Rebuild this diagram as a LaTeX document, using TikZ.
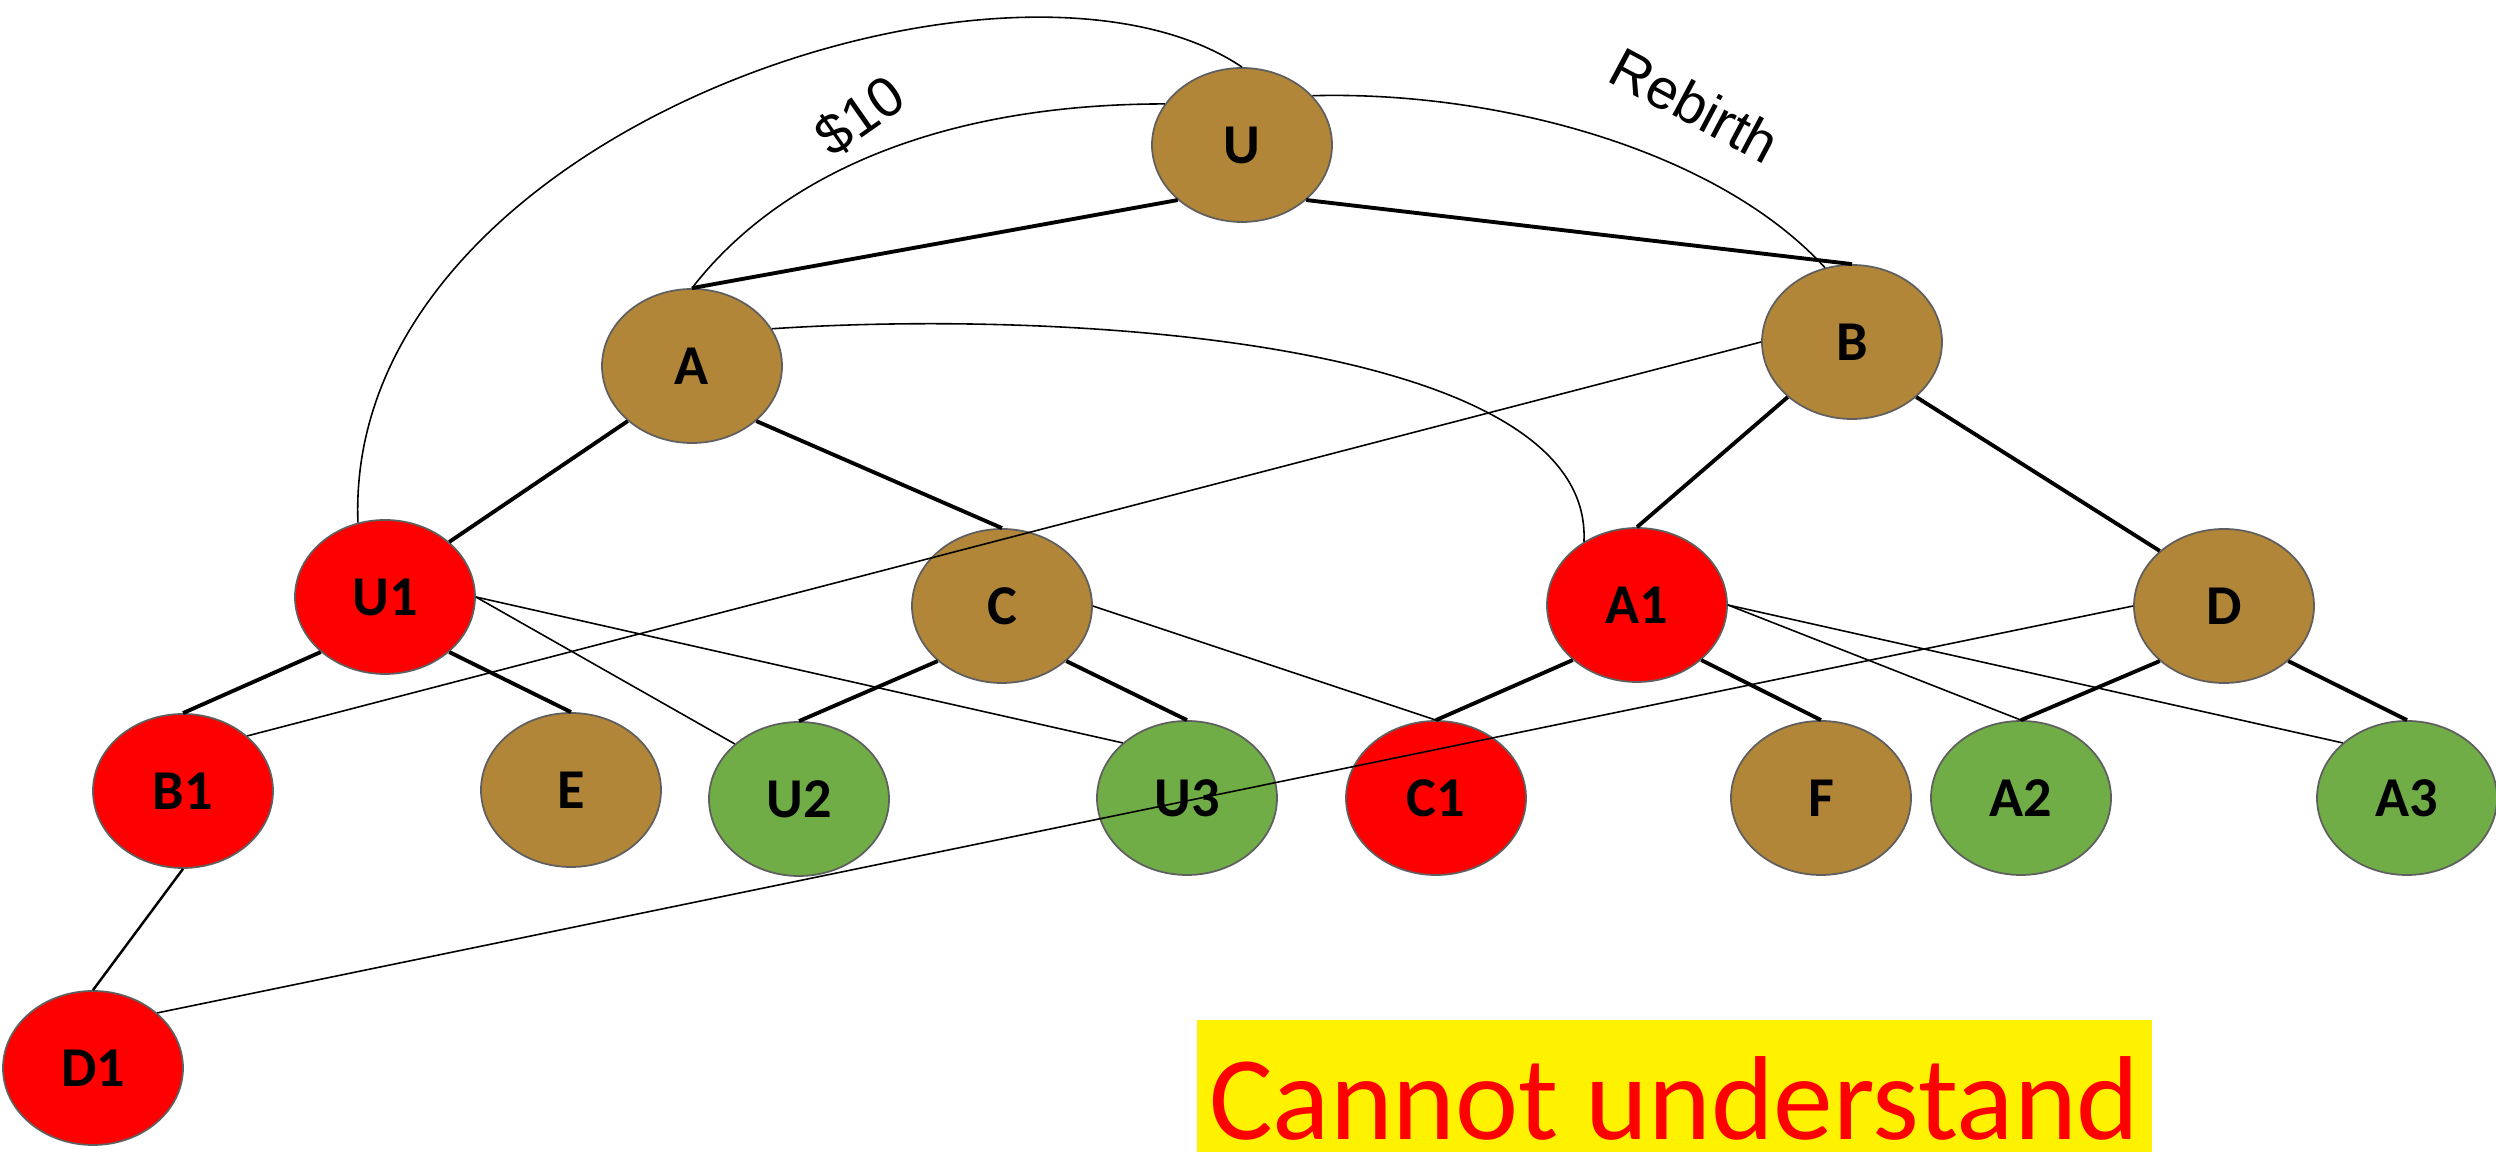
\documentclass[tikz,border=0pt]{standalone}
\usepackage{fontspec}
\setmainfont{Carlito}
\newfontfamily\arialfont{Liberation Sans}
\usetikzlibrary{shapes.geometric}

\definecolor{nodebrown}{RGB}{178,134,56}
\definecolor{nodegreen}{RGB}{112,173,71}
\definecolor{noderim}{RGB}{95,95,95}

\tikzset{
  vertex/.style={ellipse, draw=noderim, line width=0.5pt, minimum width=1.8cm, minimum height=1.54cm,
    inner sep=0pt, font=\fontsize{16}{16}\selectfont\bfseries},
  brownv/.style={vertex, fill=nodebrown},
  redv/.style={vertex, fill=red},
  greenv/.style={vertex, fill=nodegreen},
  treeedge/.style={line width=1.1pt},
  crossedge/.style={line width=0.45pt},
  arclabel/.style={font=\arialfont\fontsize{16}{16}\selectfont}
}

\begin{document}
\begin{tikzpicture}
            \useasboundingbox (0,0) rectangle (24.96,11.52);
            \clip (0,0) rectangle (24.96,11.52);
            % tree nodes
            \node[brownv] (U) at (12.42,10.07) {U};
            \node[brownv] (A) at (6.92,7.86) {A};
            \node[brownv] (B) at (18.52,8.10) {B};
            \node[redv] (U1) at (3.85,5.55) {U1};
            \node[brownv] (C) at (10.02,5.46) {C};
            \node[redv] (A1) at (16.37,5.47) {A1};
            \node[brownv] (D) at (22.24,5.46) {D};
            \node[redv] (B1) at (1.83,3.61) {B1};
            \node[brownv] (E) at (5.71,3.62) {E};
            \node[greenv] (U2) at (7.99,3.53) {U2};
            \node[greenv] (U3) at (11.87,3.54) {U3};
            \node[redv] (C1) at (14.36,3.54) {C1};
            \node[brownv] (F) at (18.21,3.54) {F};
            \node[greenv] (A2) at (20.21,3.54) {A2};
            \node[greenv] (A3) at (24.07,3.54) {A3};
            \node[redv] (D1) at (0.93,0.84) {D1};
            % thick tree edges
            \draw[treeedge] (U.south west) -- (A.north);
            \draw[treeedge] (U.south east) -- (B.north);
            \draw[treeedge] (A.south west) -- (U1.north east);
            \draw[treeedge] (A.south east) -- (C.north);
            \draw[treeedge] (B.south west) -- (A1.north);
            \draw[treeedge] (B.south east) -- (D.north west);
            \draw[treeedge] (U1.south west) -- (B1.north);
            \draw[treeedge] (U1.south east) -- (E.north);
            \draw[treeedge] (C.south west) -- (U2.north);
            \draw[treeedge] (C.south east) -- (U3.north);
            \draw[treeedge] (A1.south west) -- (C1.north);
            \draw[treeedge] (A1.south east) -- (F.north);
            \draw[treeedge] (D.south west) -- (A2.north);
            \draw[treeedge] (D.south east) -- (A3.north);
            \draw[line width=0.7pt] (B1.south) -- (D1.north);
            % thin cross links
            \draw[crossedge] (B.west) -- (B1.north east);
            \draw[crossedge] (D.west) -- (D1.north east);
            \draw[crossedge] (U1.east) -- (U2.north west);
            \draw[crossedge] (U1.east) -- (U3.north west);
            \draw[crossedge] (C.east) -- (C1.north);
            \draw[crossedge] (A1.east) -- (A2.north);
            \draw[crossedge] (A1.east) -- (A3.north west);
            % arcs
            \draw[crossedge] (U1.110) .. controls +(-0.15,3.9) and +(-2.3,1.55) .. (U.north);
            \draw[crossedge] (A.north) .. controls +(0.85,1.1) and +(-2.3,0) .. (U.152);
            \draw[crossedge] (U.35) .. controls +(1.8,0.05) and +(-1.1,1.2) .. (B.110);
            \draw[crossedge] (A.25) .. controls +(3,0.2) and +(0.1,2.0) .. (A1.130);
            \node[arclabel, rotate=35] (tenlabel) at (8.6,10.36) {\$10};
            \node[arclabel, rotate=-28] (rebirthlabel) at (16.95,10.47) {Rebirth};
            % note box
            \node[fill=yellow, text=red, font=\fontsize{34}{34}\selectfont, anchor=base, inner sep=0pt,
              text height=1.2cm, text depth=0.3cm, minimum width=9.55cm] (cannot) at (16.745,0.12) {Cannot understand};
        \end{tikzpicture}
\end{document}
